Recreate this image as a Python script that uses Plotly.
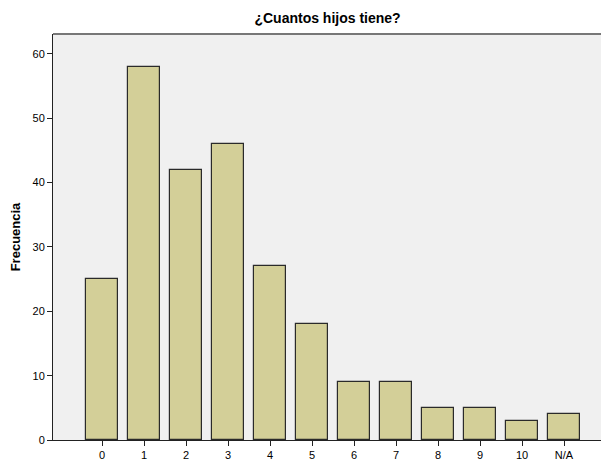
import plotly.graph_objects as go

categories = ["0", "1", "2", "3", "4", "5", "6", "7", "8", "9", "10", "N/A"]
frecuencia = [25, 58, 42, 46, 27, 18, 9, 9, 5, 5, 3, 4]
positions = list(range(len(categories)))
y_ticks = [0, 10, 20, 30, 40, 50, 60]

fig = go.Figure()
fig.add_trace(go.Bar(
    x=positions, y=frecuencia, width=0.755,
    marker=dict(color="#D3CF98", line=dict(color="#2a2a2a", width=1.2)),
))

fig.update_layout(
    width=601, height=460,
    margin=dict(l=53, r=0, t=34, b=20),
    paper_bgcolor="white", plot_bgcolor="#F0F0F0",
    showlegend=False,
    title=dict(text="<b>¿Cuantos hijos tiene?</b>", x=0.545, xanchor="center",
               y=0.96, yanchor="middle",
               font=dict(family="Liberation Sans, Arial", size=14, color="black")),
    font=dict(family="Liberation Sans, Arial", size=11, color="black"),
    bargap=0,
)
fig.update_xaxes(
    range=[-1.167, 11.88], tickvals=positions, ticktext=categories,
    showgrid=False, zeroline=False, showline=True, linecolor="#222222", linewidth=1,
    ticks="outside", ticklen=5, tickcolor="#222222",
    tickfont=dict(size=11),
)
fig.update_yaxes(
    range=[0, 63.1], tickvals=y_ticks,
    showgrid=False, zeroline=False, showline=True, linecolor="#222222", linewidth=1,
    ticks="outside", ticklen=5, tickcolor="#222222",
    title=dict(text="<b>Frecuencia</b>", font=dict(size=13), standoff=8),
    tickfont=dict(size=11),
)
fig.add_shape(type="line", xref="paper", yref="paper", x0=0, x1=1, y0=1, y1=1,
              line=dict(color="#777777", width=2))
fig.write_html("out.html", config={"displayModeBar": False},
               post_script="document.body.style.margin='0';document.body.style.overflow='hidden';")
